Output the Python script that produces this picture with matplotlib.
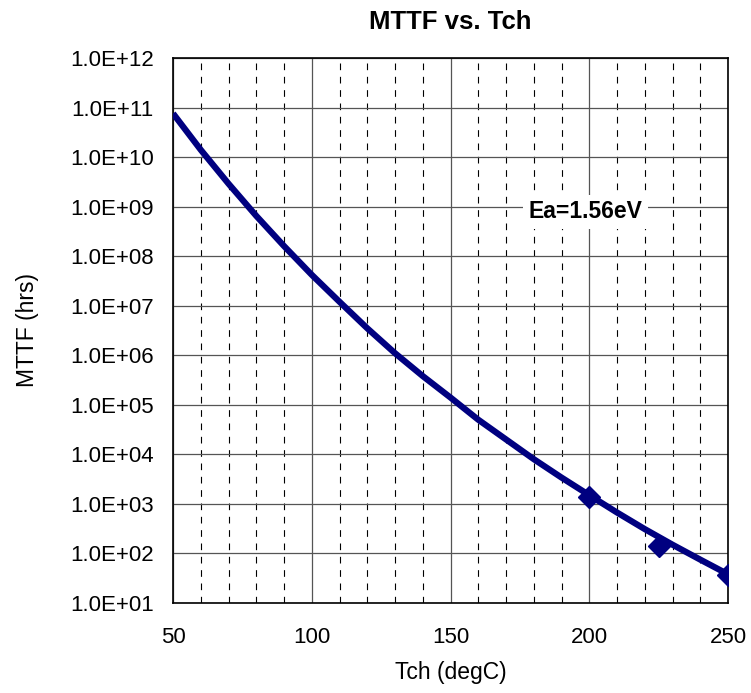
import matplotlib.pyplot as plt
from matplotlib.ticker import FixedLocator, MultipleLocator, FuncFormatter, NullLocator

plt.rcParams['font.family'] = ['Liberation Sans', 'DejaVu Sans']

# Data
tch = [50, 60, 70, 80, 90, 100, 110, 120, 130, 140, 150,
       160, 170, 180, 190, 200, 210, 220, 230, 240, 250]
mttf = [7.6e10, 1.4e10, 2.9e9, 6.5e8, 1.6e8, 4.2e7, 1.2e7, 3.5e6, 1.1e6, 3.8e5, 1.4e5,
        5.0e4, 2.0e4, 8.0e3, 3.4e3, 1.5e3, 6.7e2, 3.1e2, 1.5e2, 7.5e1, 3.8e1]
meas_t = [200, 225, 250]
meas_mttf = [1.4e3, 1.4e2, 3.6e1]

navy = '#000080'

fig = plt.figure(figsize=(7.51, 6.93), dpi=100)
ax = fig.add_axes([0.2304, 0.1299, 0.739, 0.7864])

ax.set_yscale('log')
ax.set_xlim(50, 250)
ax.set_ylim(1e1, 1e12)

ax.plot(tch, mttf, color=navy, lw=4.5, solid_capstyle='butt', zorder=3)
ax.plot(meas_t, meas_mttf, ls='none', marker='D', ms=11.5, color=navy, zorder=4)

ax.xaxis.set_major_locator(MultipleLocator(50))
ax.xaxis.set_minor_locator(MultipleLocator(10))
ax.yaxis.set_major_locator(FixedLocator([10.0 ** k for k in range(1, 13)]))
ax.yaxis.set_minor_locator(NullLocator())
ax.yaxis.set_major_formatter(FuncFormatter(lambda v, p: '%.1E' % v))

ax.grid(True, which='major', axis='both', color='#555555', lw=0.9)
ax.grid(True, which='minor', axis='x', color='black', lw=0.8, ls=(0, (6, 6)))

ax.tick_params(axis='both', which='both', length=0, labelsize=16)
ax.tick_params(axis='x', pad=17)
ax.tick_params(axis='y', pad=14)
for s in ax.spines.values():
    s.set_color('black')
    s.set_linewidth(1.2)

ax.set_title('MTTF vs. Tch', fontsize=18.5, fontweight='bold', pad=21)
ax.set_xlabel('Tch (degC)', fontsize=16.5, labelpad=10)
ax.set_ylabel('MTTF (hrs)', fontsize=16.5, labelpad=22)

ax.text(198.5, 7.8e8, 'Ea=1.56eV', fontsize=16.5, fontweight='bold', ha='center', va='center',
        bbox=dict(facecolor='white', edgecolor='none', pad=4), zorder=5)

fig.savefig('out.png', dpi=100)
